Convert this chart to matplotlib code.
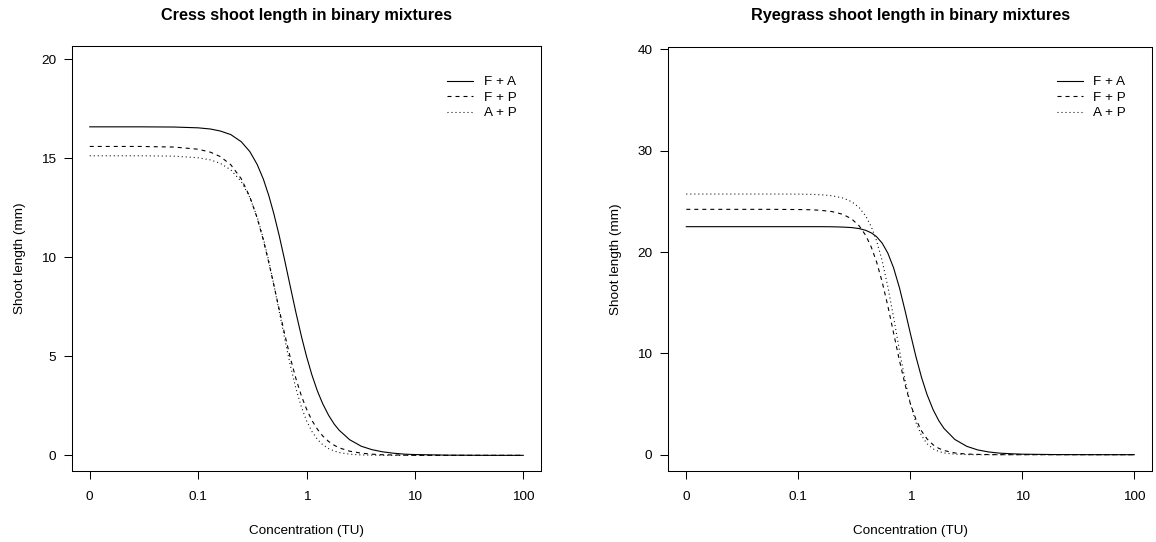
import matplotlib
matplotlib.use('Agg')
import matplotlib.pyplot as plt
from matplotlib.ticker import FixedLocator, FixedFormatter, NullLocator

plt.rcParams['font.family'] = ['Liberation Sans', 'DejaVu Sans']

# ---------------- data ----------------
series_labels = ['F + A', 'F + P', 'A + P']
x_tick_values = [0.01, 0.1, 1, 10, 100]          # 0.01 is the position used for dose 0
x_tick_labels = ['0', '0.1', '1', '10', '100']

# concentrations at which the curves were read
conc = [0.01, 0.03, 0.06, 0.1, 0.13, 0.16, 0.2, 0.25, 0.3, 0.35, 0.4, 0.45, 0.5, 0.56, 0.63, 0.71,
        0.8, 0.9, 1.0, 1.12, 1.26, 1.41, 1.6, 1.8, 2.0, 2.5, 3.2, 4, 5, 6.3, 8, 10, 20, 50, 100]

cress_title = 'Cress shoot length in binary mixtures'
cress_yticks = [0, 5, 10, 15, 20]
cress_FA = [16.58, 16.58, 16.57, 16.53, 16.47, 16.37, 16.19, 15.83, 15.33, 14.69, 13.94, 13.09,
            12.19, 11.09, 9.83, 8.50, 7.19, 5.98, 5.00, 4.07, 3.25, 2.61, 2.02, 1.58, 1.27, 0.79,
            0.46, 0.29, 0.18, 0.11, 0.06, 0.04, 0.01, 0.00, 0.00]
cress_FP = [15.59, 15.59, 15.56, 15.45, 15.30, 15.08, 14.67, 13.96, 13.05, 11.99, 10.86, 9.70,
            8.59, 7.36, 6.10, 4.91, 3.86, 2.98, 2.34, 1.77, 1.32, 0.98, 0.70, 0.51, 0.38, 0.21,
            0.11, 0.06, 0.03, 0.02, 0.01, 0.00, 0.00, 0.00, 0.00]
cress_AP = [15.12, 15.12, 15.10, 15.02, 14.91, 14.74, 14.41, 13.82, 13.02, 12.04, 10.94, 9.78,
            8.60, 7.27, 5.87, 4.53, 3.36, 2.42, 1.75, 1.21, 0.81, 0.54, 0.34, 0.22, 0.14, 0.06,
            0.02, 0.01, 0.00, 0.00, 0.00, 0.00, 0.00, 0.00, 0.00]

rye_title = 'Ryegrass shoot length in binary mixtures'
rye_yticks = [0, 10, 20, 30, 40]
rye_FA = [22.50, 22.50, 22.50, 22.50, 22.50, 22.50, 22.49, 22.46, 22.41, 22.31, 22.14, 21.88,
          21.51, 20.89, 19.89, 18.42, 16.47, 14.17, 11.99, 9.72, 7.62, 5.94, 4.43, 3.34, 2.59,
          1.50, 0.82, 0.47, 0.27, 0.15, 0.09, 0.05, 0.01, 0.00, 0.00]
rye_FP = [24.21, 24.21, 24.21, 24.19, 24.17, 24.11, 23.99, 23.72, 23.26, 22.57, 21.64, 20.44,
          19.02, 17.08, 14.68, 11.98, 9.29, 6.87, 5.06, 3.52, 2.34, 1.56, 0.97, 0.62, 0.41,
          0.17, 0.06, 0.03, 0.01, 0.00, 0.00, 0.00, 0.00, 0.00, 0.00]
rye_AP = [25.72, 25.72, 25.72, 25.71, 25.69, 25.65, 25.55, 25.33, 24.96, 24.38, 23.55, 22.46,
          21.10, 19.16, 16.59, 13.53, 10.30, 7.30, 5.05, 3.20, 1.88, 1.09, 0.57, 0.31, 0.17,
          0.05, 0.01, 0.00, 0.00, 0.00, 0.00, 0.00, 0.00, 0.00, 0.00]

# ---------------- style ----------------
W, H = 1156, 542
LW = 0.8
styles = ['-', (0, (3.6, 3.6)), (0, (0.9, 2.7))]
FS = 9.7
TFS = 11.7

fig = plt.figure(figsize=(W / 100, H / 100), dpi=100)


def px_axes(l, t, r, b):
    return fig.add_axes([l / W, 1 - b / H, (r - l) / W, (b - t) / H])


def setup(ax, title, yticks, ylim, leg_left, leg_top):
    ax.set_xscale('log')
    ax.set_xlim(10 ** -2.16, 10 ** 2.16)
    ax.set_ylim(*ylim)
    ax.xaxis.set_major_locator(FixedLocator(x_tick_values))
    ax.xaxis.set_major_formatter(FixedFormatter(x_tick_labels))
    ax.xaxis.set_minor_locator(NullLocator())
    ax.yaxis.set_major_locator(FixedLocator(yticks))
    ax.yaxis.set_major_formatter(FixedFormatter([str(v) for v in yticks]))
    ax.tick_params(axis='both', direction='out', length=5.6, width=0.75,
                   labelsize=FS, color='black')
    ax.tick_params(axis='x', pad=8.5)
    ax.tick_params(axis='y', pad=6.0)
    for s in ax.spines.values():
        s.set_linewidth(0.75)
        s.set_color('black')
    ax.set_title(title, fontsize=TFS, fontweight='bold', pad=19)
    ax.set_xlabel('Concentration (TU)', fontsize=FS)
    ax.set_ylabel('Shoot length (mm)', fontsize=FS)
    ax.xaxis.set_label_coords(0.5, -(530.7 - 471) / 425)
    ax.xaxis.label.set_va('center')
    ax.yaxis.label.set_va('center')
    bb = ax.get_position()
    ax.yaxis.set_label_coords(-52 / (bb.width * W), 0.5)
    ax.legend(loc='upper left', bbox_to_anchor=(leg_left / W, 1 - leg_top / H),
              bbox_transform=fig.transFigure, frameon=False, fontsize=FS,
              handlelength=1.93, handletextpad=0.8, labelspacing=0.23,
              borderpad=0, borderaxespad=0)


ax1 = px_axes(72.4, 46, 540.6, 471)
for ys, st, lab in zip([cress_FA, cress_FP, cress_AP], styles, series_labels):
    ax1.plot(conc, ys, color='black', lw=LW, linestyle=st, label=lab)
setup(ax1, cress_title, cress_yticks, (-0.79, 20.66), 447, 76)

ax2 = px_axes(668.4, 46.7, 1152.2, 471)
for ys, st, lab in zip([rye_FA, rye_FP, rye_AP], styles, series_labels):
    ax2.plot(conc, ys, color='black', lw=LW, linestyle=st, label=lab)
setup(ax2, rye_title, rye_yticks, (-1.61, 40.26), 1056.5, 76)

fig.savefig('out.png', dpi=100)
